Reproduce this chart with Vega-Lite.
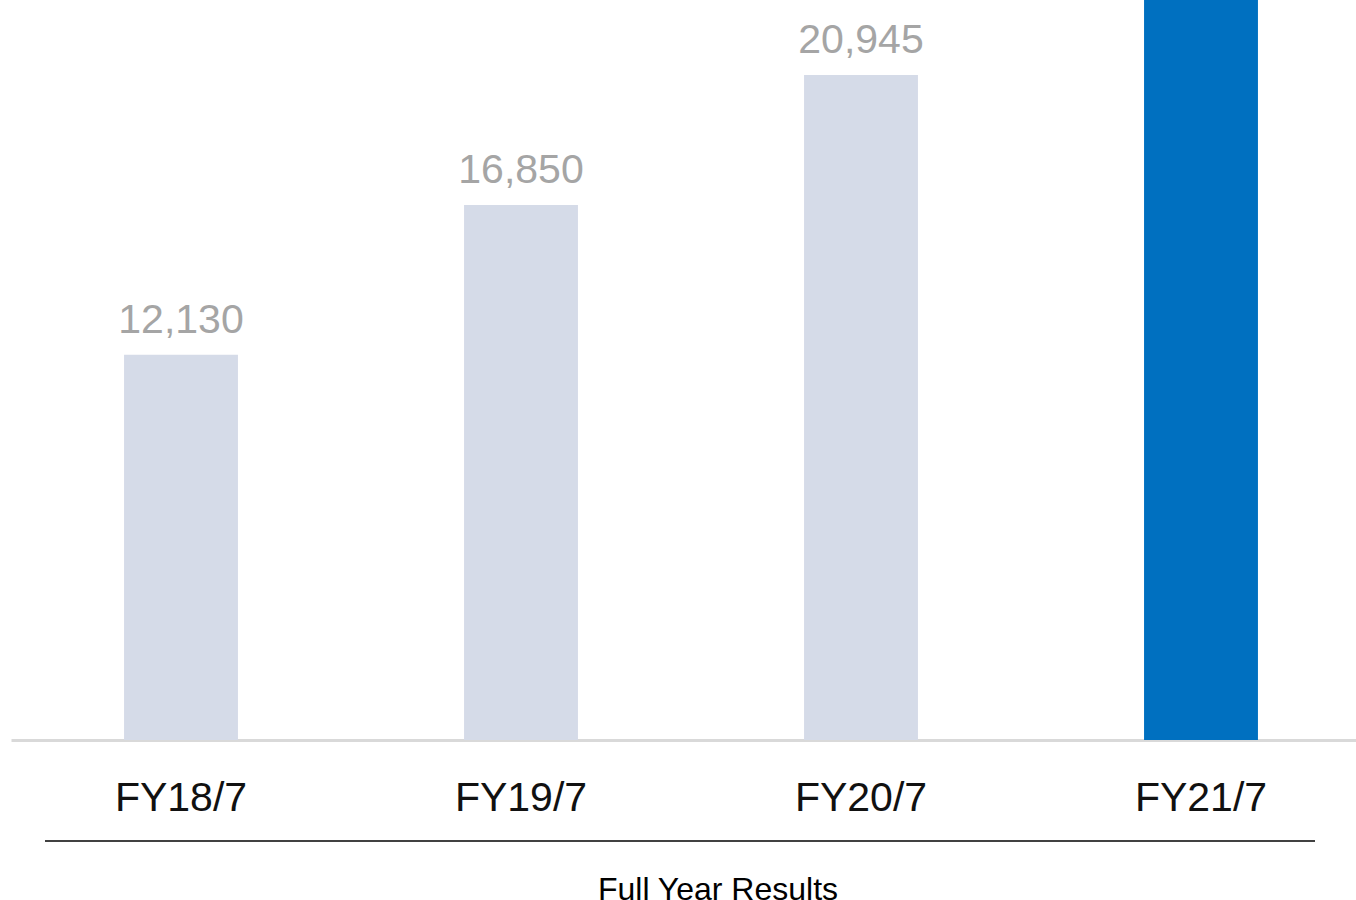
{
  "$schema": "https://vega.github.io/schema/vega-lite/v6.json",
  "width": 1360,
  "height": 740,
  "autosize": "none",
  "padding": {"left": 11, "top": 0, "right": 0, "bottom": 160},
  "background": "white",
  "config": {"view": {"stroke": null}, "font": "Liberation Sans"},
  "data": {
    "values": [
      {"period": "FY18/7", "value": 12130, "kind": "past"},
      {"period": "FY19/7", "value": 16850, "kind": "past"},
      {"period": "FY20/7", "value": 20945, "kind": "past"},
      {"period": "FY21/7", "value": 26000, "kind": "current"}
    ]
  },
  "title": {
    "text": "Full Year Results",
    "orient": "bottom",
    "anchor": "middle",
    "fontSize": 32,
    "font": "Liberation Sans",
    "fontWeight": "normal",
    "color": "#000000",
    "offset": 33,
    "dx": 27
  },
  "layer": [
    {
      "layer": [
        {
          "mark": {"type": "bar", "clip": true},
          "encoding": {
            "x": {
              "field": "period",
              "type": "nominal",
              "sort": null,
              "scale": {"paddingInner": 0.665, "paddingOuter": 0.3325},
              "axis": {
                "title": null,
                "labelAngle": 0,
                "labelFontSize": 41,
                "labelFont": "Liberation Sans",
                "labelColor": "#111111",
                "labelPadding": 38,
                "ticks": false,
                "tickSize": 0,
                "grid": false,
                "domainColor": "#d9d9d9",
                "domainWidth": 3
              }
            },
            "y": {
              "field": "value",
              "type": "quantitative",
              "scale": {"domain": [0, 23307], "nice": false, "zero": true},
              "axis": null
            },
            "color": {
              "field": "kind",
              "type": "nominal",
              "scale": {"domain": ["past", "current"], "range": ["#d5dbe8", "#0070c0"]},
              "legend": null
            }
          }
        },
        {
          "transform": [{"filter": "datum.kind === 'past'"}],
          "mark": {"type": "text", "baseline": "alphabetic", "dy": -22, "fontSize": 41, "color": "#a5a5a5", "font": "Liberation Sans"},
          "encoding": {
            "x": {"field": "period", "type": "nominal", "sort": null},
            "y": {"field": "value", "type": "quantitative"},
            "text": {"field": "value", "type": "quantitative", "format": ","}
          }
        }
      ]
    },
    {
      "mark": {"type": "rule", "color": "#404040", "strokeWidth": 1.5},
      "encoding": {
        "x": {"datum": 0.025, "type": "quantitative", "scale": {"domain": [0, 1], "nice": false}, "axis": null},
        "x2": {"datum": 0.9588},
        "y": {"datum": -3180, "type": "quantitative"}
      }
    }
  ],
  "resolve": {"scale": {"x": "independent"}}
}
